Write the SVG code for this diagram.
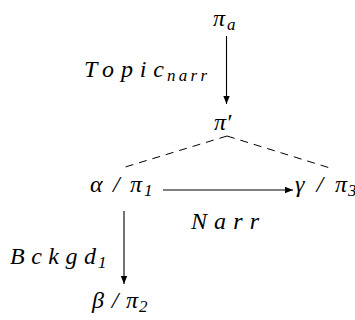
<svg xmlns="http://www.w3.org/2000/svg" width="355" height="320" viewBox="0 0 355 320">
<defs>
<marker id="ah" viewBox="0 0 10 10" refX="10" refY="5" markerWidth="8" markerHeight="8" markerUnits="userSpaceOnUse" orient="auto">
<path d="M0,1 L10,5 L0,9 z" fill="#000"/>
</marker>
</defs>
<g id="connectors" stroke="#000" fill="none">
<line stroke-width="1.1" x1="226.5" y1="36" x2="226.5" y2="104" marker-end="url(#ah)"/>
<line stroke-width="1.1" x1="163" y1="190" x2="293" y2="190" marker-end="url(#ah)"/>
<line stroke-width="1.1" x1="124" y1="211" x2="124" y2="284" marker-end="url(#ah)"/>
<path stroke-dasharray="8,6" d="M227,136 L122,168"/>
<path stroke-dasharray="8,6" d="M227,136 L330,168"/>
</g>
<g font-family="Liberation Serif" font-style="italic" font-size="24" fill="#000">
<g id="pi_a"><text x="213" y="26">π</text><text font-size="17" x="227" y="30">a</text></g>
<g id="topic"><text x="84" y="77" textLength="80">Topic</text><text font-size="17" x="167" y="81" textLength="40">narr</text></g>
<g id="pi_prime"><text x="214" y="130">π′</text></g>
<g id="alpha"><text x="90" y="192" textLength="52">α/π</text><text font-size="17" x="144" y="196">1</text></g>
<g id="gamma"><text x="295" y="192" textLength="52">γ/π</text><text font-size="17" x="348" y="196">3</text></g>
<g id="narr"><text x="191" y="229" textLength="68">Narr</text></g>
<g id="bckgd"><text x="10" y="264" textLength="86">Bckgd</text><text font-size="17" x="98" y="268">1</text></g>
<g id="beta"><text x="92" y="308" textLength="46">β/π</text><text font-size="17" x="139" y="312">2</text></g>
</g>
</svg>
